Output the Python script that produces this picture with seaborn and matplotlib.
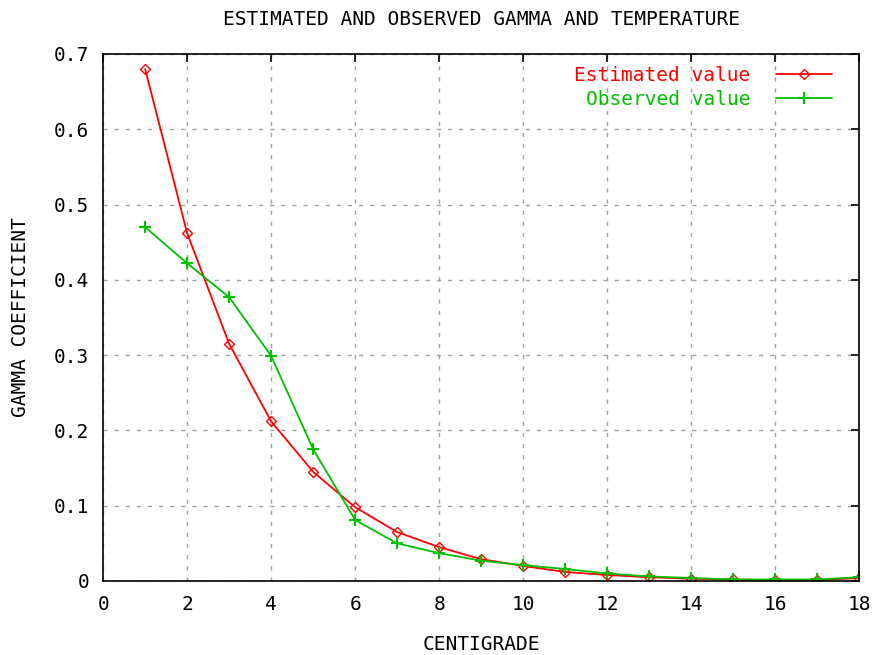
import matplotlib
matplotlib.use("Agg")
import matplotlib.pyplot as plt
import seaborn as sns
import pandas as pd
from matplotlib.ticker import FuncFormatter

temperature = list(range(1, 19))
estimated = [0.680, 0.462, 0.315, 0.212, 0.145, 0.098, 0.065, 0.045, 0.029,
             0.020, 0.012, 0.008, 0.005, 0.003, 0.002, 0.001, 0.001, 0.004]
observed = [0.470, 0.422, 0.377, 0.299, 0.175, 0.081, 0.050, 0.037, 0.027,
            0.021, 0.016, 0.010, 0.006, 0.004, 0.002, 0.002, 0.002, 0.005]
series_names = ["Estimated value", "Observed value"]
x_ticks = list(range(0, 19, 2))
y_ticks = [0, 0.1, 0.2, 0.3, 0.4, 0.5, 0.6, 0.7]

sns.set_style("white")
plt.rcParams['font.family'] = ['DejaVu Sans Mono']
plt.rcParams['text.color'] = 'black'
plt.rcParams['axes.labelcolor'] = 'black'
FS = 14

fig = plt.figure(figsize=(8.74, 6.55), dpi=100)
ax = fig.add_axes([0.118, 0.113, 0.865, 0.8046])

df_est = pd.DataFrame({"x": temperature, "y": estimated})
df_obs = pd.DataFrame({"x": temperature, "y": observed})

sns.lineplot(data=df_est, x="x", y="y", ax=ax, color="#ff0000", marker="D",
             markersize=5, markerfacecolor="none", markeredgecolor="#ff0000",
             markeredgewidth=1.0, linewidth=1.3, label=series_names[0])
sns.lineplot(data=df_obs, x="x", y="y", ax=ax, color="#00c000", marker="+",
             markersize=8, markeredgewidth=1.5, markeredgecolor="#00c000",
             markerfacecolor="#00c000", linewidth=1.3,
             label=series_names[1])

ax.set_xlim(0, 18)
ax.set_ylim(0, 0.7)
ax.set_xticks(x_ticks)
ax.set_yticks(y_ticks)
ax.xaxis.set_major_formatter(FuncFormatter(lambda v, p: f"{v:g}"))
ax.yaxis.set_major_formatter(FuncFormatter(lambda v, p: f"{v:g}"))
ax.tick_params(direction="in", length=6, width=1.2, top=True, right=True,
               labelsize=FS, pad=10, colors="black")
ax.grid(True, color="#a0a0a0", linestyle=(0, (3, 5)), linewidth=1.0)
for s in ax.spines.values():
    s.set_color("black")
    s.set_linewidth(1.2)

ax.set_xlabel("CENTIGRADE", fontsize=FS, labelpad=15, color="black")
ax.set_ylabel("GAMMA COEFFICIENT", fontsize=FS, labelpad=17, color="black")
ax.set_title("ESTIMATED AND OBSERVED GAMMA AND TEMPERATURE", fontsize=FS,
             pad=21, color="black")

leg = ax.legend(loc="upper right", bbox_to_anchor=(0.9696, 0.985),
                markerfirst=False, frameon=False,
                labelcolor="linecolor", fontsize=FS, handlelength=2.9,
                handletextpad=1.3, borderaxespad=0.0, borderpad=0.2,
                labelspacing=0.25)

fig.savefig("out.png", dpi=100)
